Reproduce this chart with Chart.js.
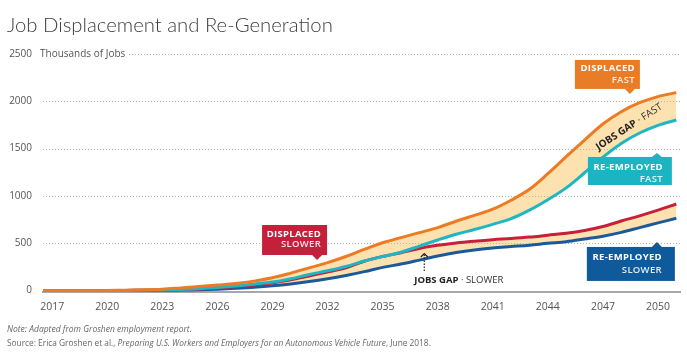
<!DOCTYPE html>
<html><head><meta charset="utf-8">
<script src="https://cdn.jsdelivr.net/npm/chart.js@4"></script>
<style>html,body{margin:0;padding:0;background:#fff}canvas{display:block}</style>
</head><body>
<canvas id="c" width="687" height="356"></canvas>
<script>
const years = [2016.5,2017,2018,2019,2020,2021,2022,2023,2024,2025,2026,2027,2028,2029,2030,2031,2032,2033,2034,2035,2036,2037,2038,2039,2040,2041,2042,2043,2044,2045,2046,2047,2048,2049,2050,2051];
const displacedFast   = [0,0,0,1,2,4,8,15,28,42,58,75,100,135,185,240,295,360,435,505,560,612,665,733,795,860,955,1070,1235,1415,1590,1760,1890,1985,2050,2092];
const reemployedFast  = [0,0,0,0,1,2,4,7,12,20,32,48,68,90,125,170,210,255,312,360,405,470,535,595,645,700,760,850,960,1085,1245,1410,1555,1665,1745,1803];
const displacedSlower = [0,0,0,0,1,2,3,6,11,18,28,42,60,82,115,155,195,240,310,360,400,445,478,503,522,538,550,565,585,605,635,677,735,790,850,915];
const reemployedSlower= [0,0,0,0,0,1,2,3,5,9,15,24,35,50,70,95,125,160,200,245,280,322,365,402,430,450,465,480,500,517,545,575,615,665,715,764];
const yTickValues = [0,500,1000,1500,2000,2500];
const xTickValues = [2017,2020,2023,2026,2029,2032,2035,2038,2041,2044,2047,2050];

const FONT = '"Open Sans", "Noto Sans", sans-serif';
const TITLE_FONT = 'Lato, "Open Sans", sans-serif';
const pts = arr => arr.map((v,i)=>({x:years[i], y:v}));
const GAP = '#fde2b0';

const callouts = [
  {lines:['DISPLACED','FAST'], color:'#e97c26', year:2048.47, value:2078, left:-55, width:65, top:-34, height:29, dir:'down', pad:5, l1:8.5, l2:20.5},
  {lines:['RE-EMPLOYED','FAST'], color:'#1bb4c3', year:2049.94, value:1454, left:-69, width:84, top:4, height:28, dir:'up', pad:9, l1:10.3, l2:22.3},
  {lines:['DISPLACED','SLOWER'], color:'#c41f3b', year:2031.43, value:323, left:-55, width:65, top:-35, height:30, dir:'down', pad:6, l1:9, l2:19.5},
  {lines:['RE-EMPLOYED','SLOWER'], color:'#0f5a9b', year:2049.94, value:514, left:-70, width:88, top:5, height:34, dir:'up', pad:13, l1:10.7, l2:23}
];

function dotted(ctx, x0, x1, yy){
  ctx.fillStyle='#b4b4b4';
  const py = Math.round(yy);
  for(let px=Math.round(x0); px<=x1; px+=3){ ctx.fillRect(px, py, 1, 1); }
}

const deco = {
  id:'deco',
  beforeDatasetsDraw(chart){
    const {ctx, chartArea, scales:{y}} = chart;
    ctx.save();
    ctx.font='400 10px '+FONT;
    const lw = ctx.measureText('Thousands of Jobs').width;
    yTickValues.forEach(v=>{
      if(v===0) return;
      const yy = y.getPixelForValue(v);
      const x0 = v===2500 ? 40+lw+4 : chartArea.left;
      dotted(ctx, x0, chartArea.right, yy);
    });
    ctx.restore();
  },
  afterDatasetsDraw(chart){
    const {ctx, scales:{x,y}} = chart;
    ctx.save();
    callouts.forEach(c=>{
      const tx = x.getPixelForValue(c.year), ty = y.getPixelForValue(c.value);
      const bx = tx + c.left, by = ty + c.top;
      ctx.fillStyle = c.color;
      ctx.fillRect(bx, by, c.width, c.height);
      ctx.beginPath();
      if(c.dir==='down'){ ctx.moveTo(tx-5, by+c.height); ctx.lineTo(tx, ty); ctx.lineTo(tx+5, by+c.height); }
      else { ctx.moveTo(tx-5, by); ctx.lineTo(tx, ty); ctx.lineTo(tx+5, by); }
      ctx.closePath(); ctx.fill();
      ctx.textAlign='right'; ctx.textBaseline='middle';
      ctx.fillStyle='#fff';
      ctx.font='700 9.5px '+FONT;
      ctx.letterSpacing='0.3px';
      ctx.fillText(c.lines[0], bx+c.width-c.pad, by+c.l1);
      ctx.fillStyle='rgba(255,255,255,0.88)';
      ctx.font='600 9.5px '+FONT;
      ctx.fillText(c.lines[1], bx+c.width-c.pad, by+c.l2);
    });
    ctx.letterSpacing='0px';
    // jobs gap slower
    const ax = x.getPixelForValue(2037.27);
    ctx.strokeStyle='#222'; ctx.lineWidth=1.2;
    ctx.setLineDash([1.5,1.5]);
    ctx.beginPath(); ctx.moveTo(ax,271); ctx.lineTo(ax,255); ctx.stroke();
    ctx.setLineDash([]);
    ctx.beginPath(); ctx.moveTo(ax-3.5,257); ctx.lineTo(ax,253.5); ctx.lineTo(ax+3.5,257); ctx.stroke();
    ctx.textAlign='left'; ctx.textBaseline='middle';
    ctx.font='700 9.5px '+FONT; ctx.fillStyle='#222';
    const gx = ax-10;
    ctx.fillText('JOBS GAP', gx, 280);
    let w = ctx.measureText('JOBS GAP').width;
    ctx.font='400 9.5px '+FONT; ctx.fillStyle='#333';
    ctx.fillText(' · SLOWER', gx+w, 280);
    // jobs gap fast rotated
    ctx.save();
    ctx.translate(x.getPixelForValue(2048.43), y.getPixelForValue(1729));
    ctx.rotate(-0.58);
    ctx.textAlign='left';
    ctx.font='700 10px '+FONT; ctx.fillStyle='#222';
    const t1='JOBS GAP'; w = ctx.measureText(t1).width;
    ctx.font='400 10px '+FONT; const w2 = ctx.measureText(' · FAST').width;
    const sx = -(w+w2)/2;
    ctx.font='700 10px '+FONT; ctx.fillText(t1, sx, 0);
    ctx.font='400 10px '+FONT; ctx.fillStyle='#333'; ctx.fillText(' · FAST', sx+w, 0);
    ctx.restore();
    ctx.restore();
  },
  afterDraw(chart){
    const {ctx, scales:{y}} = chart;
    ctx.save();
    // title
    ctx.fillStyle='#3d3d3d'; ctx.textBaseline='alphabetic'; ctx.textAlign='left';
    const title='Job Displacement and Re-Generation';
    ctx.font='300 100px '+TITLE_FONT;
    const s = 326/ctx.measureText(title).width*100;
    ctx.font='300 '+s.toFixed(2)+'px '+TITLE_FONT;
    ctx.fillText(title, 7, 32);
    // axis title
    const yy = y.getPixelForValue(2500);
    ctx.font='400 10px '+FONT; ctx.fillStyle='#555'; ctx.textBaseline='middle';
    ctx.fillText('Thousands of Jobs', 40, yy);
    // notes
    ctx.textBaseline='middle'; ctx.fillStyle='#666';
    const note='Note: Adapted from Groshen employment report.';
    ctx.font='italic 400 100px '+FONT;
    const ns = 185/ctx.measureText(note).width*100;
    ctx.font='italic 400 '+ns.toFixed(2)+'px '+FONT;
    ctx.fillText(note, 7, 330);
    const segs = [['Source: Erica Groshen et al., ',''],['Preparing U.S. Workers and Employers for an Autonomous Vehicle Future','italic '],[', June 2018.','']];
    let tot = 0;
    segs.forEach(([t,st])=>{ ctx.font=st+'400 100px '+FONT; tot += ctx.measureText(t).width; });
    const ss = 424/tot*100;
    let px = 7;
    segs.forEach(([t,st])=>{ ctx.font=st+'400 '+ss.toFixed(2)+'px '+FONT; ctx.fillText(t, px, 344); px += ctx.measureText(t).width; });
    ctx.restore();
  }
};

new Chart(document.getElementById('c'), {
  type:'line',
  data:{datasets:[
    {label:'Displaced Fast', data:pts(displacedFast), borderColor:'#ec7b24', backgroundColor:GAP, fill:{target:1}},
    {label:'Re-employed Fast', data:pts(reemployedFast), borderColor:'#1fb6c4', backgroundColor:GAP, fill:false},
    {label:'Displaced Slower', data:pts(displacedSlower), borderColor:'#c7203b', backgroundColor:GAP, fill:{target:3}},
    {label:'Re-employed Slower', data:pts(reemployedSlower), borderColor:'#1a5a9b', backgroundColor:GAP, fill:false}
  ]},
  options:{
    responsive:false, animation:false,
    layout:{padding:{left:0,right:7,top:54,bottom:39}},
    elements:{line:{borderWidth:3, tension:0.35}, point:{radius:0}},
    plugins:{legend:{display:false}, tooltip:{enabled:false}, filler:{drawTime:'beforeDatasetsDraw'}},
    scales:{
      x:{type:'linear', min:2016.5, max:2051.2,
        afterBuildTicks:s=>{s.ticks=xTickValues.map(v=>({value:v}));},
        afterFit:s=>{s.height=25;},
        grid:{display:false, drawTicks:false},
        border:{display:true, color:'#a8a8a8', width:2},
        ticks:{padding:9, color:'#555', font:{family:FONT, size:10.5}, callback:v=>String(v), maxRotation:0, autoSkip:false}
      },
      y:{min:-15, max:2500,
        afterBuildTicks:s=>{s.ticks=yTickValues.map(v=>({value:v}));},
        afterFit:s=>{s.width=43;},
        grid:{display:false, drawTicks:false},
        border:{display:false},
        ticks:{padding:11, color:'#555', font:{family:FONT, size:10}, callback:v=>String(v)}
      }
    }
  },
  plugins:[deco]
});
</script>
</body></html>
